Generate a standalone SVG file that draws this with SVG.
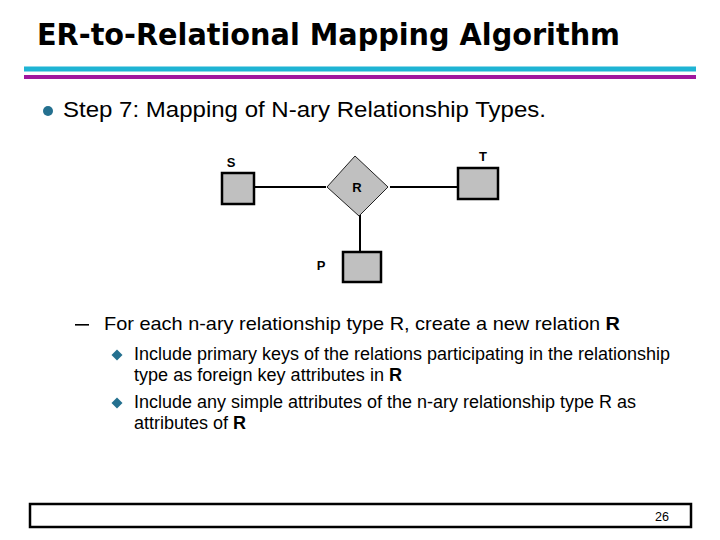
<svg xmlns="http://www.w3.org/2000/svg" width="720" height="540" viewBox="0 0 720 540">
<style>
.body{font-family:"Liberation Sans",Arial,sans-serif;fill:#000}
.lbl{font-family:"Liberation Sans",Arial,sans-serif;font-weight:bold;font-size:13px;fill:#000;text-anchor:middle}
.ent{fill:#c0c0c0;stroke:#000;stroke-width:2.5}
.rel{fill:#c0c0c0;stroke:#222;stroke-width:1}
.conn{stroke:#000;stroke-width:2;fill:none}
.bul{fill:#24708f}
</style>
<rect width="720" height="540" fill="#fff"/>
<text x="37" y="45" font-family="DejaVu Sans,Verdana,sans-serif" font-weight="bold" font-size="30" textLength="583" lengthAdjust="spacingAndGlyphs">ER-to-Relational Mapping Algorithm</text>
<rect x="24" y="66.5" width="672" height="5" fill="#1fb4d4"/>
<rect x="24" y="75" width="672" height="4" fill="#a0179e"/>
<circle class="bul" cx="48" cy="111" r="5"/>
<text class="body" x="63" y="117" font-size="22" textLength="483" lengthAdjust="spacingAndGlyphs">Step 7: Mapping of N-ary Relationship Types.</text>
<g id="connectors">
<line class="conn" x1="254" y1="187" x2="326" y2="187"/>
<line class="conn" x1="390" y1="187" x2="458" y2="187"/>
<line class="conn" x1="360" y1="215" x2="360" y2="252"/>
</g>
<g id="S"><rect class="ent" x="222" y="173" width="32" height="31"/><text class="lbl" x="231" y="167">S</text></g>
<g id="T"><rect class="ent" x="458" y="168" width="40" height="31"/><text class="lbl" x="483" y="161">T</text></g>
<g id="R"><polygon class="rel" points="327,187 355,156 388,187 359,216"/><text class="lbl" x="357" y="192">R</text></g>
<g id="P"><rect class="ent" x="343" y="252" width="38" height="30"/><text class="lbl" x="321" y="270">P</text></g>
<rect x="75" y="324" width="14" height="1.6" fill="#000"/>
<text class="body" x="104" y="330" font-size="18.5" textLength="516" lengthAdjust="spacingAndGlyphs">For each n-ary relationship type R, create a new relation <tspan font-weight="bold">R</tspan></text>
<polygon class="bul" points="117,349.5 122.5,355 117,360.5 111.5,355"/>
<text class="body" x="134" y="360" font-size="17.5" textLength="536" lengthAdjust="spacingAndGlyphs">Include primary keys of the relations participating in the relationship</text>
<text class="body" x="134" y="381" font-size="17.5" textLength="268" lengthAdjust="spacingAndGlyphs">type as foreign key attributes in <tspan font-weight="bold">R</tspan></text>
<polygon class="bul" points="117,397.5 122.5,403 117,408.5 111.5,403"/>
<text class="body" x="134" y="408" font-size="17.5" textLength="502" lengthAdjust="spacingAndGlyphs">Include any simple attributes of the n-ary relationship type R as</text>
<text class="body" x="134" y="429" font-size="17.5" textLength="112" lengthAdjust="spacingAndGlyphs">attributes of <tspan font-weight="bold">R</tspan></text>
<rect x="30" y="504" width="661" height="23" fill="none" stroke="#000" stroke-width="2.5"/>
<text class="body" x="655" y="521" font-size="12" textLength="14" lengthAdjust="spacingAndGlyphs">26</text>
</svg>
